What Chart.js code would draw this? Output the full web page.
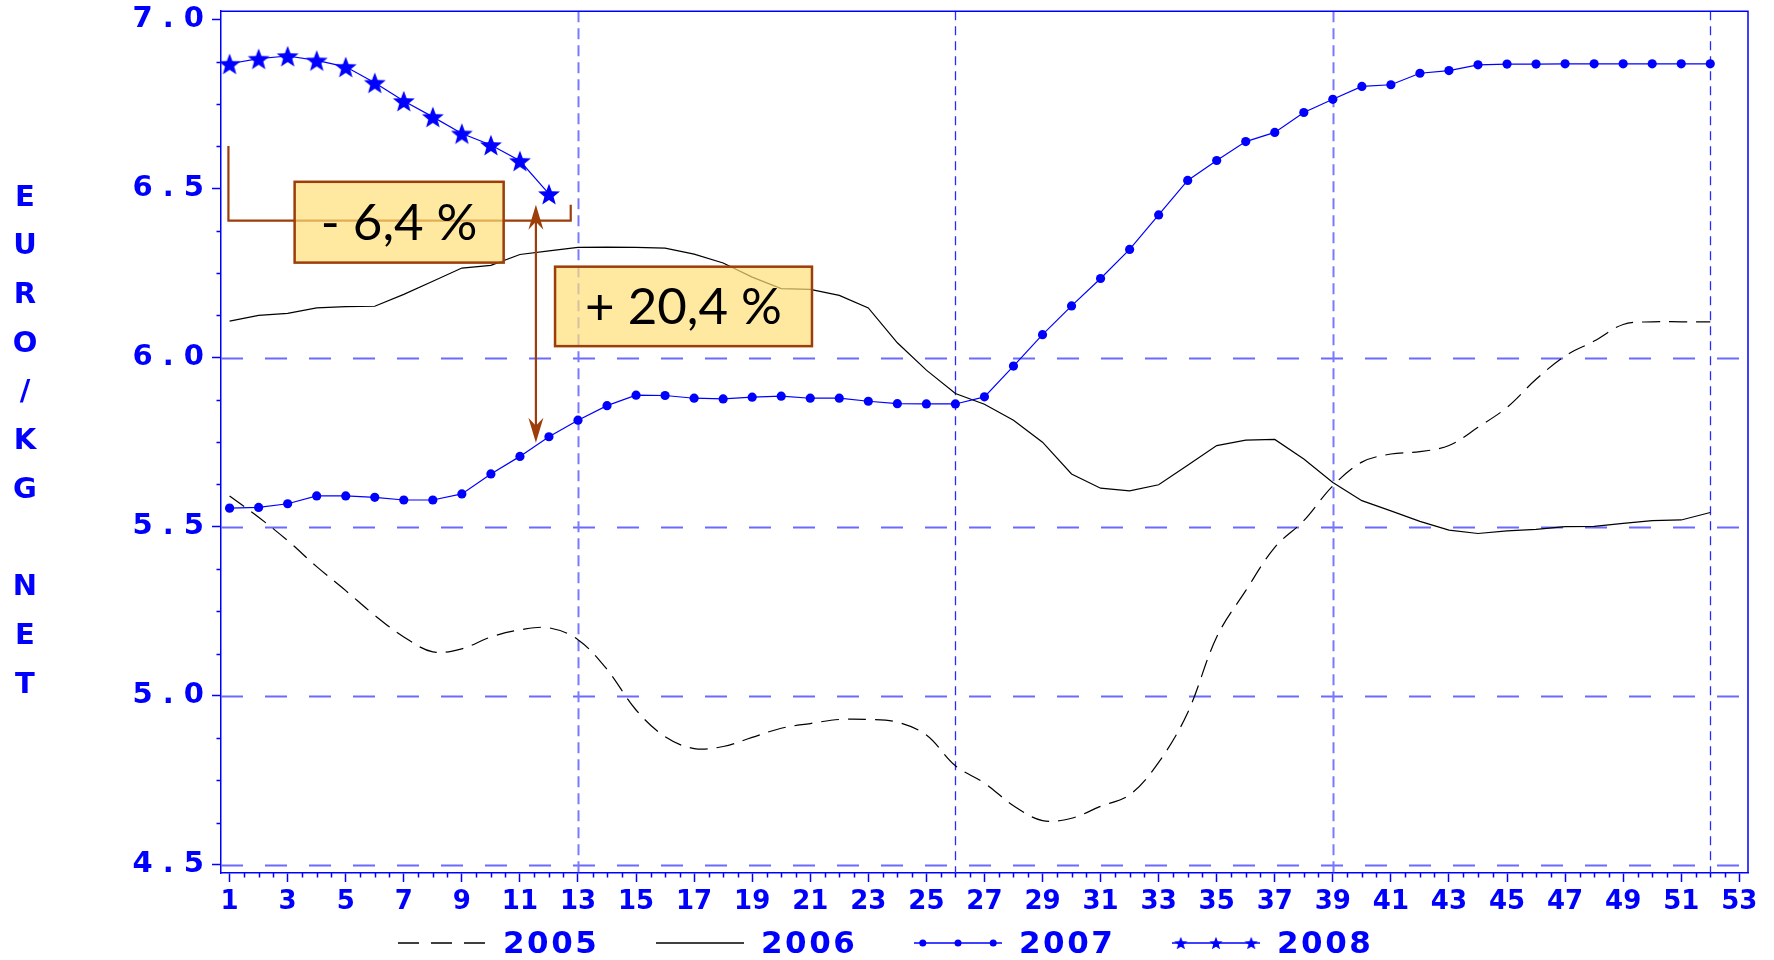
<!DOCTYPE html>
<html>
<head>
<meta charset="utf-8">
<title>EURO / KG NET - 2005 à 2008</title>
<script src="https://cdn.jsdelivr.net/npm/chart.js@4.4.1/dist/chart.umd.min.js"></script>
<style>
    html, body { margin: 0; padding: 0; background: #ffffff; }
    #wrap { width: 1774px; height: 960px; position: relative; }
</style>
</head>
<body>
<div id="wrap"><canvas id="price-chart"></canvas></div>
<script>
/* =====================================================
   Data
   ===================================================== */
const weeks = [1, 2, 3, 4, 5, 6, 7, 8, 9, 10, 11, 12, 13, 14, 15, 16, 17, 18, 19, 20, 21, 22, 23, 24, 25, 26,
               27, 28, 29, 30, 31, 32, 33, 34, 35, 36, 37, 38, 39, 40, 41, 42, 43, 44, 45, 46, 47, 48, 49, 50, 51, 52];

const price2005 = [5.591, 5.528, 5.459, 5.382, 5.311, 5.238, 5.174, 5.130, 5.139, 5.174, 5.195, 5.201, 5.166,
                   5.078, 4.958, 4.879, 4.844, 4.850, 4.877, 4.904, 4.918, 4.930, 4.930, 4.922, 4.884, 4.793,
                   4.742, 4.675, 4.631, 4.638, 4.673, 4.707, 4.803, 4.950, 5.174, 5.311, 5.439, 5.518, 5.621,
                   5.691, 5.715, 5.722, 5.740, 5.794, 5.853, 5.936, 6.005, 6.049, 6.098, 6.106, 6.106, 6.106];

const price2006 = [6.108, 6.125, 6.131, 6.147, 6.151, 6.152, 6.187, 6.226, 6.265, 6.273, 6.305, 6.316, 6.326,
                   6.327, 6.326, 6.324, 6.306, 6.280, 6.238, 6.204, 6.202, 6.184, 6.147, 6.044, 5.963, 5.894,
                   5.862, 5.815, 5.750, 5.656, 5.614, 5.606, 5.624, 5.682, 5.740, 5.756, 5.758, 5.700, 5.631,
                   5.577, 5.547, 5.516, 5.490, 5.480, 5.488, 5.492, 5.500, 5.501, 5.510, 5.518, 5.520, 5.542];

const price2007 = [5.555, 5.557, 5.568, 5.591, 5.591, 5.587, 5.579, 5.579, 5.597, 5.656, 5.708, 5.766, 5.815,
                   5.858, 5.889, 5.888, 5.880, 5.878, 5.883, 5.886, 5.880, 5.880, 5.871, 5.864, 5.863, 5.863,
                   5.884, 5.975, 6.068, 6.153, 6.234, 6.320, 6.422, 6.524, 6.583, 6.639, 6.666, 6.725, 6.764,
                   6.802, 6.807, 6.841, 6.849, 6.866, 6.868, 6.868, 6.869, 6.869, 6.869, 6.869, 6.869, 6.869];

const price2008 = [6.869, 6.884, 6.892, 6.879, 6.860, 6.813, 6.759, 6.712, 6.663, 6.629, 6.582, 6.484];

const seriesLabels = ['2005', '2006', '2007', '2008'];

const xTickWeeks = [1, 3, 5, 7, 9, 11, 13, 15, 17, 19, 21, 23, 25, 27, 29, 31, 33, 35, 37, 39, 41, 43, 45, 47, 49, 51, 53];
const yTickValues = [4.5, 5.0, 5.5, 6.0, 6.5, 7.0];
const gridLevels = [4.5, 5.0, 5.5, 6.0];
const quarterWeeks = [13, 26, 39, 52];

const yTitle = 'EURO/KG NET';
const dropLabel = '- 6,4 %';
const riseLabel = '+ 20,4 %';

/* =====================================================
   Styles
   ===================================================== */
const BLUE = '#0000ff';
const GRID_BLUE = '#6a6aff';
const BROWN = '#9c3d0a';
const BOX_FILL = 'rgba(255, 222, 120, 0.7)';
const AXIS_FONT = '"DejaVu Sans", Verdana, sans-serif';
const NOTE_FONT = 'Lato, "Open Sans", sans-serif';

function makeStar(size, outer) {
    const c = document.createElement('canvas');
    c.width = size;
    c.height = size;
    const g = c.getContext('2d');
    const cx = size / 2, cy = size / 2 + outer * 0.1;
    const inner = outer * 0.42;
    g.beginPath();
    for (let i = 0; i < 10; i++) {
        const r = i % 2 ? inner : outer;
        const a = -Math.PI / 2 + i * Math.PI / 5;
        g.lineTo(cx + r * Math.cos(a), cy + r * Math.sin(a));
    }
    g.closePath();
    g.fillStyle = BLUE;
    g.fill();
    return c;
}

const starMark = makeStar(24, 11.5);
const starLegend = makeStar(16, 7);

const toPoints = (values) => values.map((v, i) => ({ x: weeks[i], y: v }));

/* =====================================================
   Plugins: reference lines, frame, minor ticks, notes
   ===================================================== */
const refLines = {
    id: 'refLines',
    beforeDatasetsDraw(chart) {
        const { ctx, chartArea: a, scales: { x, y } } = chart;
        ctx.save();
        ctx.strokeStyle = GRID_BLUE;
        ctx.lineWidth = 2;
        ctx.setLineDash([22, 22]);
        gridLevels.forEach(v => {
            const py = Math.round(y.getPixelForValue(v)) + 0.5;
            ctx.beginPath();
            ctx.moveTo(a.left, py);
            ctx.lineTo(a.right, py);
            ctx.stroke();
        });
        quarterWeeks.forEach((w, i) => {
            const px = Math.round(x.getPixelForValue(w)) + 0.5;
            const dark = (i % 2 === 1);
            ctx.strokeStyle = dark ? '#2a2aff' : '#7a7aff';
            ctx.lineWidth = dark ? 1.3 : 2;
            ctx.setLineDash(dark ? [9, 6] : [11, 6]);
            ctx.beginPath();
            ctx.moveTo(px, a.top);
            ctx.lineTo(px, a.bottom);
            ctx.stroke();
        });
        ctx.restore();
    },
    afterDatasetsDraw(chart) {
        const { ctx, scales: { x, y } } = chart;
        const px = v => x.getPixelForValue(v);
        const py = v => y.getPixelForValue(v);

        ctx.save();
        ctx.strokeStyle = BROWN;
        ctx.fillStyle = BROWN;
        ctx.lineWidth = 2.2;

        // bracket for the 2008 drop
        ctx.beginPath();
        ctx.moveTo(px(0.96), py(6.626));
        ctx.lineTo(px(0.96), py(6.405));
        ctx.lineTo(px(12.75), py(6.405));
        ctx.lineTo(px(12.75), py(6.452));
        ctx.stroke();

        // double headed arrow 2007 -> 2008
        const ax = px(11.55), top = py(6.452), bot = py(5.748);
        ctx.beginPath();
        ctx.moveTo(ax, top + 10);
        ctx.lineTo(ax, bot - 10);
        ctx.stroke();
        const head = (tipY, dir) => {
            ctx.beginPath();
            ctx.moveTo(ax, tipY);
            ctx.lineTo(ax - 7.5, tipY + dir * 25);
            ctx.lineTo(ax, tipY + dir * 17);
            ctx.lineTo(ax + 7.5, tipY + dir * 25);
            ctx.closePath();
            ctx.fill();
        };
        head(top, 1);
        head(bot, -1);

        // label boxes
        const box = (x0, x1, y0, y1, text) => {
            const l = px(x0), r = px(x1), t = py(y0), b = py(y1);
            ctx.fillStyle = BOX_FILL;
            ctx.fillRect(l, t, r - l, b - t);
            ctx.lineWidth = 2.5;
            ctx.strokeStyle = BROWN;
            ctx.strokeRect(l, t, r - l, b - t);
            ctx.fillStyle = '#000000';
            ctx.font = '51px ' + NOTE_FONT;
            ctx.textAlign = 'center';
            ctx.textBaseline = 'middle';
            ctx.fillText(text, (l + r) / 2, (t + b) / 2 + 1);
        };
        box(3.24, 10.44, 6.520, 6.281, dropLabel);
        box(12.21, 21.06, 6.269, 6.034, riseLabel);
        ctx.restore();
    },
    afterDraw(chart) {
        const { ctx, chartArea: a, scales: { x, y } } = chart;
        ctx.save();

        // frame top + right
        ctx.strokeStyle = BLUE;
        ctx.lineWidth = 1.5;
        ctx.beginPath();
        ctx.moveTo(a.left, a.top);
        ctx.lineTo(a.right, a.top);
        ctx.lineTo(a.right, a.bottom);
        ctx.stroke();

        // minor ticks
        ctx.lineWidth = 1.5;
        ctx.beginPath();
        for (let w = 1; w <= 53; w += 0.5) {
            if (xTickWeeks.includes(w)) continue;
            const p = Math.round(x.getPixelForValue(w)) + 0.5;
            ctx.moveTo(p, a.bottom);
            ctx.lineTo(p, a.bottom + 4.5);
        }
        for (let v = 4.5; v <= 7.0; v += 0.125) {
            if (yTickValues.includes(v)) continue;
            const p = Math.round(y.getPixelForValue(v)) + 0.5;
            ctx.moveTo(a.left, p);
            ctx.lineTo(a.left - 4.5, p);
        }
        ctx.stroke();

        // stacked y title
        ctx.fillStyle = BLUE;
        ctx.font = 'bold 29px ' + AXIS_FONT;
        ctx.textAlign = 'center';
        ctx.textBaseline = 'middle';
        yTitle.split('').forEach((ch, i) => {
            if (ch !== ' ') ctx.fillText(ch, 25, 198 + i * 48.7);
        });

        // legend
        const ly = 944;
        seriesLabels.forEach((label, i) => {
            const x0 = 398 + i * 258, x1 = x0 + 88;
            ctx.save();
            ctx.lineWidth = 1.3;
            ctx.strokeStyle = i < 2 ? '#000000' : BLUE;
            ctx.setLineDash(i === 0 ? [21, 12] : []);
            ctx.beginPath();
            ctx.moveTo(x0, ly - 1);
            ctx.lineTo(x1, ly - 1);
            ctx.stroke();
            ctx.restore();
            [0.1, 0.5, 0.9].forEach(f => {
                const mx = x0 + f * 88;
                if (i === 2) {
                    ctx.beginPath();
                    ctx.arc(mx, ly - 1, 3.5, 0, Math.PI * 2);
                    ctx.fill();
                } else if (i === 3) {
                    ctx.drawImage(starLegend, mx - 8, ly - 9);
                }
            });
            ctx.fillStyle = BLUE;
            ctx.font = 'bold 31px ' + AXIS_FONT;
            ctx.textAlign = 'left';
            ctx.letterSpacing = '2.5px';
            ctx.fillText(label, x1 + 17, ly + 1);
            ctx.letterSpacing = '0px';
        });
        ctx.restore();
    }
};

/* =====================================================
   Chart
   ===================================================== */
const ctx = document.getElementById('price-chart').getContext('2d');

new Chart(ctx, {
    type: 'line',
    data: {
        datasets: [{
            label: seriesLabels[3],
            data: toPoints(price2008),
            borderColor: BLUE,
            borderWidth: 1.2,
            pointStyle: starMark,
            pointRadius: 10,
            tension: 0
        }, {
            label: seriesLabels[2],
            data: toPoints(price2007),
            borderColor: BLUE,
            borderWidth: 1.2,
            pointStyle: 'circle',
            pointRadius: 4.6,
            pointBackgroundColor: BLUE,
            pointBorderWidth: 0,
            tension: 0
        }, {
            label: seriesLabels[1],
            data: toPoints(price2006),
            borderColor: '#000000',
            borderWidth: 1.2,
            pointRadius: 0,
            tension: 0
        }, {
            label: seriesLabels[0],
            data: toPoints(price2005),
            borderColor: '#000000',
            borderWidth: 1.2,
            borderDash: [18, 9],
            pointRadius: 0,
            tension: 0.35
        }]
    },
    options: {
        responsive: true,
        maintainAspectRatio: false,
        animation: false,
        layout: { padding: { top: 9, right: 26, bottom: 0, left: 0 } },
        plugins: {
            legend: { display: false },
            tooltip: { enabled: false }
        },
        scales: {
            x: {
                type: 'linear',
                min: 0.704,
                max: 53.3,
                afterBuildTicks: s => { s.ticks = xTickWeeks.map(v => ({ value: v })); },
                afterFit: s => {
                    s.height = 87;
                    s.paddingLeft = 0;
                    s.paddingRight = 0;
                },
                border: { color: BLUE, width: 1.5 },
                grid: { drawOnChartArea: false, tickLength: 9, color: BLUE, tickWidth: 1.5 },
                ticks: {
                    autoSkip: false,
                    maxRotation: 0,
                    padding: 5,
                    color: BLUE,
                    font: { family: AXIS_FONT, size: 26, weight: 'bold' },
                    callback: v => String(v)
                }
            },
            y: {
                min: 4.476,
                max: 7.0245,
                afterBuildTicks: s => { s.ticks = yTickValues.map(v => ({ value: v })); },
                afterFit: s => {
                    s.width = 221;
                    s.paddingTop = 0;
                    s.paddingBottom = 0;
                },
                border: { color: BLUE, width: 1.5 },
                grid: { drawOnChartArea: false, tickLength: 9, color: BLUE, tickWidth: 1.5 },
                ticks: {
                    padding: 8,
                    color: BLUE,
                    font: { family: AXIS_FONT, size: 29, weight: 'bold' },
                    callback: v => v.toFixed(1).split('').join(' ')
                }
            }
        }
    },
    plugins: [refLines]
});
</script>
</body>
</html>
